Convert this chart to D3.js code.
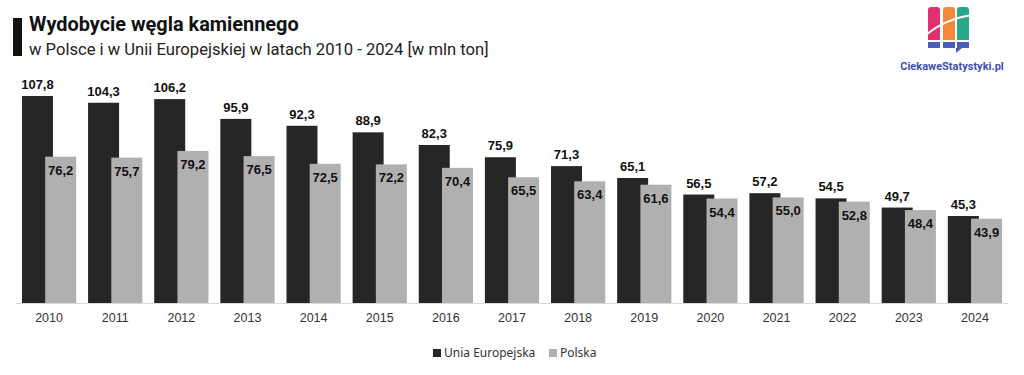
<!DOCTYPE html>
<html>
<head>
<meta charset="utf-8">
<script src="https://cdnjs.cloudflare.com/ajax/libs/d3/7.8.5/d3.min.js"></script>
<style>
  body { margin: 0; background: #fff; }
  svg { display: block; }
</style>
</head>
<body>
<div id="chart"></div>
<script>
// data
var years = ["2010","2011","2012","2013","2014","2015","2016","2017","2018","2019","2020","2021","2022","2023","2024"];
var euValues = [107.8,104.3,106.2,95.9,92.3,88.9,82.3,75.9,71.3,65.1,56.5,57.2,54.5,49.7,45.3];
var plValues = [76.2,75.7,79.2,76.5,72.5,72.2,70.4,65.5,63.4,61.6,54.4,55.0,52.8,48.4,43.9];
var seriesNames = ["Unia Europejska", "Polska"];

var width = 1024, height = 375;
var euColor = "#262626", plColor = "#b0b0b0";

var svg = d3.select("#chart").append("svg")
    .attr("width", width)
    .attr("height", height);

// title block
svg.append("rect").attr("x", 13).attr("y", 18).attr("width", 9).attr("height", 38).attr("fill", "#111");
svg.append("text")
    .attr("x", 29).attr("y", 31)
    .style("font-family", "Roboto, 'Noto Sans', sans-serif")
    .style("font-weight", "bold")
    .style("font-size", "19.9px")
    .attr("fill", "#111")
    .text("Wydobycie węgla kamiennego");
svg.append("text")
    .attr("x", 29).attr("y", 55)
    .style("font-family", "Roboto, 'Noto Sans', sans-serif")
    .style("font-size", "16.6px")
    .attr("fill", "#222")
    .text("w Polsce i w Unii Europejskiej w latach 2010 - 2024 [w mln ton]");

// logo
var logo = svg.append("g");
var cols = [{x: 928, c: "#e0306e"}, {x: 943, c: "#f5873a"}, {x: 957, c: "#27a88a"}];
cols.forEach(function(d) {
    logo.append("path")
        .attr("d", "M" + d.x + ",40 V10 a3,3 0 0 1 3,-3 h6 a3,3 0 0 1 3,3 V40 Z")
        .attr("fill", d.c);
    logo.append("rect").attr("x", d.x).attr("y", 42).attr("width", 12).attr("height", 6).attr("fill", "#4a5cc0");
});
logo.append("path").attr("d", "M956,48 h6 l-6,5 Z").attr("fill", "#4a5cc0");
logo.append("path")
    .attr("d", "M926,35 Q945,19 972,15")
    .attr("fill", "none").attr("stroke", "#fff").attr("stroke-width", 2);
svg.append("text")
    .attr("x", 952).attr("y", 70)
    .attr("text-anchor", "middle")
    .style("font-family", "Roboto, sans-serif")
    .style("font-weight", "bold")
    .style("font-size", "11px")
    .attr("fill", "#3f4fb5")
    .text("CiekaweStatystyki.pl");

// scales
var x = d3.scaleBand().domain(years).range([16, 1008]).paddingInner(0.18).paddingOuter(0.09);
var y = d3.scaleLinear().domain([0, 110]).range([303, 303 - 110 * 1.92]);
var barW = 31, offset = x.bandwidth() - barW;

var rows = years.map(function(yr, i) { return {year: yr, eu: euValues[i], pl: plValues[i]}; });
var fmt = function(v) { return d3.format(".1f")(v).replace(".", ","); };

// baseline
svg.append("line")
    .attr("x1", 16).attr("x2", 1008)
    .attr("y1", y(0) + 0.5).attr("y2", y(0) + 0.5)
    .attr("stroke", "#d9d9d9");

var g = svg.selectAll(".grp").data(rows).enter().append("g");

g.append("rect")
    .attr("x", function(d) { return x(d.year); })
    .attr("y", function(d) { return y(d.eu); })
    .attr("width", barW)
    .attr("height", function(d) { return y(0) - y(d.eu); })
    .attr("fill", euColor);

g.append("rect")
    .attr("x", function(d) { return x(d.year) + offset; })
    .attr("y", function(d) { return y(d.pl); })
    .attr("width", barW)
    .attr("height", function(d) { return y(0) - y(d.pl); })
    .attr("fill", plColor);

g.append("text")
    .attr("x", function(d) { return x(d.year) + barW / 2; })
    .attr("y", function(d) { return y(d.eu) - 7; })
    .attr("text-anchor", "middle")
    .style("font-family", "'Liberation Sans', Arial, sans-serif")
    .style("font-weight", "bold")
    .style("font-size", "13px")
    .attr("fill", "#111")
    .text(function(d) { return fmt(d.eu); });

g.append("text")
    .attr("x", function(d) { return x(d.year) + offset + barW / 2; })
    .attr("y", function(d) { return y(d.pl) + 18; })
    .attr("text-anchor", "middle")
    .style("font-family", "'Liberation Sans', Arial, sans-serif")
    .style("font-weight", "bold")
    .style("font-size", "13px")
    .attr("fill", "#111")
    .text(function(d) { return fmt(d.pl); });

// x axis labels
var xAxis = svg.append("g")
    .attr("transform", "translate(0," + y(0) + ")")
    .call(d3.axisBottom(x).tickSize(0).tickPadding(10));
xAxis.select(".domain").remove();
xAxis.selectAll("text")
    .style("font-family", "'Liberation Sans', Arial, sans-serif")
    .style("font-size", "12.5px")
    .attr("fill", "#333");

// legend
var legend = svg.append("g").attr("transform", "translate(433,357)");
var legX = [0, 116];
seriesNames.forEach(function(name, i) {
    legend.append("rect").attr("x", legX[i]).attr("y", -8).attr("width", 8).attr("height", 8)
        .attr("fill", i === 0 ? euColor : plColor);
    legend.append("text").attr("x", legX[i] + 11).attr("y", 0)
        .style("font-family", "'Noto Sans', sans-serif")
        .style("font-size", "12px")
        .attr("fill", "#333")
        .text(name);
});
</script>
</body>
</html>
